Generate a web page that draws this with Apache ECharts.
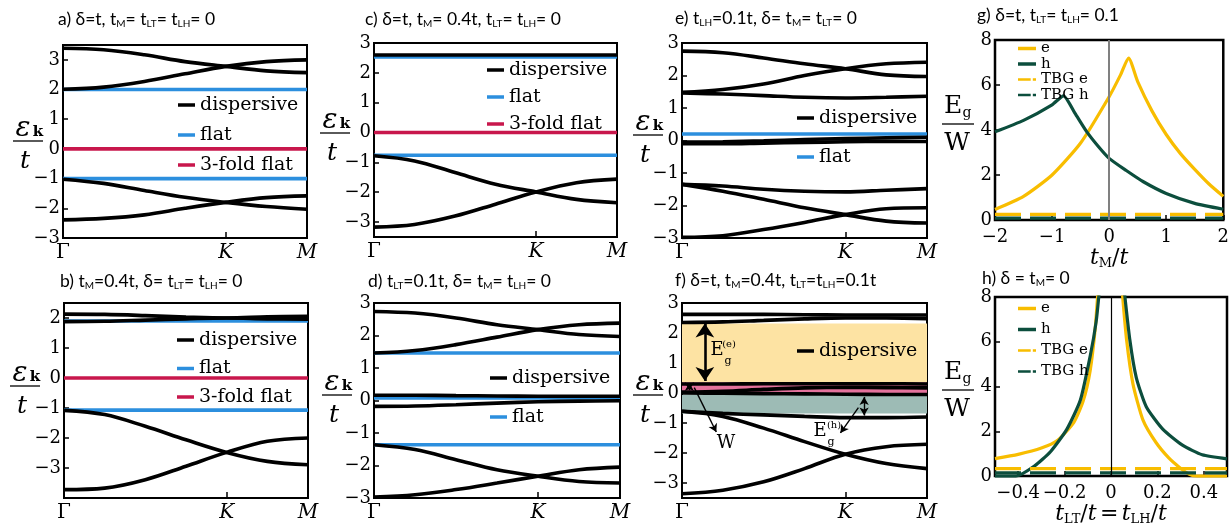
<!DOCTYPE html>
<html lang="en">
<head>
<meta charset="UTF-8">
<title>band structures and gaps</title>
<style>
  html, body { margin: 0; padding: 0; background: #fff; }
  #main { width: 1232px; height: 527px; }
</style>
</head>
<body>
<div id="main"></div>
<script src="https://cdn.jsdelivr.net/npm/echarts@6/dist/echarts.min.js"></script>
<script>
// k path: Γ = 0, K = 2, M = 3
var kPath = [0, 0.5, 1, 1.5, 2, 2.5, 3];
var kTicks = [0, 2, 3];
var kNames = ['Γ', 'K', 'M'];

// a) δ=t
var aDisp = [
  [3.39, 3.34, 3.17, 2.94, 2.78, 2.63, 2.57],
  [2.01, 2.08, 2.27, 2.53, 2.78, 2.94, 3.0],
  [-1.02, -1.16, -1.40, -1.63, -1.80, -1.94, -2.03],
  [-2.39, -2.34, -2.22, -2.00, -1.80, -1.64, -1.58]
];
var aFlat = [2.0, -1.0];
var aFold = [0.0];

// b) tM=0.4t
var bDisp = [
  [2.13, 2.12, 2.08, 2.03, 2.0, 2.04, 2.06],
  [1.88, 1.89, 1.93, 1.97, 2.0, 1.97, 1.96],
  [-1.08, -1.22, -1.61, -2.06, -2.48, -2.78, -2.89],
  [-3.72, -3.67, -3.39, -2.94, -2.48, -2.11, -2.00]
];
var bFlat = [1.9, -1.07];
var bFold = [0.0];

// c) δ=t, tM=0.4t
var cDisp = [
  [2.6, 2.6, 2.6, 2.6, 2.6, 2.6, 2.6],
  [-0.78, -0.95, -1.34, -1.73, -1.99, -2.24, -2.35],
  [-3.17, -3.08, -2.80, -2.40, -1.99, -1.68, -1.56]
];
var cFlat = [2.53, -0.76];
var cFold = [0.0];

// d) tLT=0.1t
var dDisp = [
  [2.74, 2.69, 2.54, 2.33, 2.18, 2.03, 1.97],
  [1.46, 1.54, 1.72, 1.95, 2.18, 2.33, 2.38],
  [0.16, 0.16, 0.15, 0.14, 0.13, 0.13, 0.13],
  [-0.18, -0.17, -0.13, -0.08, -0.04, -0.02, -0.01],
  [-1.36, -1.51, -1.82, -2.13, -2.33, -2.49, -2.54],
  [-2.97, -2.90, -2.74, -2.54, -2.33, -2.13, -2.05]
];
var dFlat = [1.46, 0.08, -1.36];

// e) tLH=0.1t
var eDisp = [
  [2.75, 2.70, 2.54, 2.36, 2.21, 2.02, 1.97],
  [1.48, 1.57, 1.74, 2.00, 2.21, 2.36, 2.41],
  [1.46, 1.43, 1.38, 1.33, 1.31, 1.33, 1.36],
  [-0.05, -0.04, -0.01, 0.03, 0.06, 0.08, 0.10],
  [-0.10, -0.10, -0.08, -0.06, -0.04, -0.03, -0.03],
  [-1.35, -1.40, -1.50, -1.56, -1.58, -1.53, -1.48],
  [-1.35, -1.56, -1.81, -2.07, -2.28, -2.48, -2.54],
  [-2.98, -2.93, -2.74, -2.52, -2.28, -2.10, -2.07]
];
var eFlat = [0.2];

// f) δ=t, tM=0.4t, tLT=tLH=0.1t
var fDisp = [
  [2.62, 2.62, 2.62, 2.61, 2.60, 2.60, 2.60],
  [2.35, 2.37, 2.42, 2.47, 2.50, 2.50, 2.48],
  [0.30, 0.30, 0.31, 0.31, 0.31, 0.31, 0.30],
  [0.03, 0.06, 0.12, 0.17, 0.19, 0.18, 0.17],
  [0.00, -0.01, -0.02, -0.03, -0.04, -0.05, -0.05],
  [-0.61, -0.68, -0.73, -0.78, -0.82, -0.82, -0.80],
  [-0.61, -0.78, -1.17, -1.62, -2.04, -2.35, -2.52],
  [-3.36, -3.24, -2.96, -2.52, -2.04, -1.79, -1.71]
];
var fFills = [
  { from: 0.36, to: 2.32, color: '#FDE3A3' },
  { from: 0.0, to: 0.36, color: '#E4729C' },
  { from: -0.68, to: -0.07, color: '#9DBBB5' }
];
var fArrows = [
  { from: [0.28, 2.32], to: [0.28, 0.40], both: true, width: 2.6 },
  { from: [0.09, 0.33], to: [0.09, 0.09], both: true, width: 1.4 },
  { from: [0.15, 0.18], to: [0.42, -1.30], both: false, width: 1.4 },
  { from: [2.23, -0.13], to: [2.23, -0.75], both: true, width: 1.4 },
  { from: [2.16, -0.49], to: [1.94, -1.33], both: false, width: 1.4 }
];

// g) Eg/W vs tM/t
var gE = [[-2, 0.47], [-1.5, 1.05], [-1, 2.0], [-0.5, 3.42], [0, 5.48], [0.2, 6.45], [0.34, 7.2],
  [0.5, 6.15], [0.75, 4.85], [1, 3.8], [1.25, 2.95], [1.5, 2.25], [1.75, 1.6], [2, 1.05]];
var gH = [[-2, 3.92], [-1.5, 4.43], [-1, 5.12], [-0.8, 5.52], [-0.6, 4.75], [-0.4, 3.95], [-0.2, 3.3],
  [0, 2.74], [0.3, 2.2], [0.6, 1.7], [1, 1.18], [1.5, 0.74], [2, 0.48]];
var gTbg = [0.25, 0.08];

// h) Eg/W vs tLT/t = tLH/t
var hE = [[-0.5, 0.78], [-0.4, 0.97], [-0.3, 1.25], [-0.23, 1.6], [-0.16, 2.4], [-0.12, 3.35], [-0.09, 4.7],
  [-0.068, 6.6], [-0.056, 8.3], [0, null], [0.048, 8.3], [0.067, 6.1], [0.095, 4.1], [0.138, 2.5],
  [0.194, 1.5], [0.25, 0.8], [0.294, 0.4], [0.336, 0.09], [0.37, 0], [0.5, 0]];
var hH = [[-0.5, 0], [-0.41, 0], [-0.33, 0.45], [-0.26, 1.1], [-0.19, 2.1], [-0.132, 3.4], [-0.089, 5.4],
  [-0.064, 6.9], [-0.05, 8.3], [0, null], [0.057, 8.3], [0.081, 6.1], [0.109, 4.4], [0.152, 3.1],
  [0.223, 2.1], [0.308, 1.38], [0.393, 0.95], [0.5, 0.77]];
var hTbg = [0.33, 0.14];
var hTicks = [-0.4, -0.2, 0, 0.2, 0.4];

var BLACK = '#000', BLUE = '#2C8FDE', RED = '#C8174C', GOLD = '#F8BD00', TEAL = '#0C4E3D';
var SERIF = '"DejaVu Serif", serif';
var SANS = 'Lato, "Noto Sans", sans-serif';
var LW = 3.6;

function minus(v) { return String(v).replace('-', '\u2212'); }

var grids = [
  { left: 63, top: 45, width: 244, height: 193 },   // a
  { left: 64, top: 303, width: 244, height: 195 },  // b
  { left: 374, top: 43, width: 243, height: 194 },  // c
  { left: 374, top: 303, width: 246, height: 195 }, // d
  { left: 682, top: 43, width: 245, height: 195 },  // e
  { left: 682, top: 303, width: 245, height: 195 }, // f
  { left: 995, top: 40, width: 232, height: 180 },  // g
  { left: 995, top: 297, width: 232, height: 185 }  // h
];
grids.forEach(function (g, i) {
  g.show = true;
  g.borderColor = '#000';
  g.borderWidth = i > 5 ? 2.5 : 2;
});

var xAxes = [], yAxes = [];
function bandAxes(gi, min, max, ticks) {
  xAxes.push({
    gridIndex: gi, type: 'value', min: 0, max: 3,
    axisLine: { show: false, onZero: false }, splitLine: { show: false },
    axisTick: { show: true, inside: true, length: 6, customValues: [2], lineStyle: { color: '#000', width: 1.5 } },
    axisLabel: {
      customValues: kTicks, margin: 5, showMinLabel: true, showMaxLabel: true,
      formatter: function (v) {
        var n = kNames[kTicks.indexOf(v)];
        return n === 'Γ' ? '{r|Γ}' : '{i|' + n + '}';
      },
      rich: {
        r: { fontFamily: SERIF, fontSize: 20, color: '#000' },
        i: { fontFamily: SERIF, fontStyle: 'italic', fontSize: 20, color: '#000' }
      }
    }
  });
  yAxes.push({
    gridIndex: gi, type: 'value', min: min, max: max,
    axisLine: { show: false, onZero: false }, splitLine: { show: false },
    axisTick: { show: true, inside: true, length: 5, customValues: ticks, lineStyle: { color: '#000', width: 1.5 } },
    axisLabel: {
      customValues: ticks, margin: 3, showMinLabel: true, showMaxLabel: true,
      fontFamily: SERIF, fontSize: 18, color: '#000', formatter: minus
    }
  });
}
var t6 = [-3, -2, -1, 0, 1, 2, 3];
bandAxes(0, -3, 3.5, t6);
bandAxes(1, -4, 2.5, [-3, -2, -1, 0, 1, 2]);
bandAxes(2, -3.5, 3, t6);
bandAxes(3, -3, 3, t6);
bandAxes(4, -3, 3, t6);
bandAxes(5, -3.5, 3, t6);

var subRich = {
  i: { fontFamily: SERIF, fontStyle: 'italic', fontSize: 22, color: '#000' },
  s: { fontFamily: SERIF, fontSize: 13, color: '#000', lineHeight: 14, padding: [10, 0, 0, 0] },
  n: { fontFamily: SERIF, fontSize: 22, color: '#000' }
};
function gapAxes(gi, min, max, interval, ticks, name, gap) {
  var tick = { show: true, inside: true, length: 5, lineStyle: { color: '#000', width: 1.5 } };
  var lab = { margin: 8, fontFamily: SERIF, fontSize: 18, color: '#000', showMinLabel: true, showMaxLabel: true,
    formatter: function (v) { return minus(v); } };
  if (ticks) { tick.customValues = ticks; lab.customValues = ticks; }
  xAxes.push({
    gridIndex: gi, type: 'value', min: min, max: max, interval: interval,
    axisLine: { show: false, onZero: false }, splitLine: { show: false }, axisTick: tick, axisLabel: lab,
    name: name, nameLocation: 'middle', nameGap: gap, nameTextStyle: { rich: subRich }
  });
  yAxes.push({
    gridIndex: gi, type: 'value', min: 0, max: 8, interval: 2,
    axisLine: { show: false, onZero: false }, splitLine: { show: false },
    axisTick: { show: true, inside: true, length: 5, lineStyle: { color: '#000', width: 1.5 } },
    axisLabel: { margin: 3, fontFamily: SERIF, fontSize: 18, color: '#000' }
  });
}
gapAxes(6, -2, 2, 1, null, '{i|t}{s|M}{n|/}{i|t}', 22);
gapAxes(7, -0.5, 0.5, null, hTicks, '{i|t}{s|LT}{n|/}{i|t} {n|=} {i|t}{s|LH}{n|/}{i|t}', 26);

var series = [];
function addBands(gi, disp, flat, fold) {
  disp.forEach(function (band) {
    series.push({
      name: 'dispersive', type: 'line', xAxisIndex: gi, yAxisIndex: gi,
      data: kPath.map(function (k, i) { return [k, band[i]]; }),
      smooth: 0.35, showSymbol: false, color: BLACK, lineStyle: { width: LW }, z: 3
    });
  });
  (flat || []).forEach(function (v) {
    series.push({
      name: 'flat', type: 'line', xAxisIndex: gi, yAxisIndex: gi,
      data: [[0, v], [3, v]], showSymbol: false, color: BLUE, lineStyle: { width: LW }, z: 2
    });
  });
  (fold || []).forEach(function (v) {
    series.push({
      name: '3-fold flat', type: 'line', xAxisIndex: gi, yAxisIndex: gi,
      data: [[0, v], [3, v]], showSymbol: false, color: RED, lineStyle: { width: LW }, z: 5
    });
  });
}

// shaded gaps in f, under the bands
series.push({
  name: 'fill', type: 'line', xAxisIndex: 5, yAxisIndex: 5, data: [[0, 0]],
  showSymbol: false, lineStyle: { opacity: 0 }, z: 1,
  markArea: {
    silent: true,
    data: fFills.map(function (f) {
      return [{ yAxis: f.from, itemStyle: { color: f.color } }, { yAxis: f.to }];
    })
  }
});

addBands(0, aDisp, aFlat, aFold);
addBands(1, bDisp, bFlat, bFold);
addBands(2, cDisp, cFlat, cFold);
addBands(3, dDisp, dFlat);
addBands(4, eDisp, eFlat);
addBands(5, fDisp);

// arrows in f
series.push({
  name: 'arrows', type: 'line', xAxisIndex: 5, yAxisIndex: 5, data: [[0, 0]],
  showSymbol: false, lineStyle: { opacity: 0 }, z: 6,
  markLine: {
    silent: true, label: { show: false },
    data: fArrows.map(function (a) {
      var big = a.width > 2;
      var size = big ? [14, 14] : [7, 8];
      return [
        { coord: a.from, symbol: a.both ? 'arrow' : 'none', symbolSize: size,
          lineStyle: { color: '#000', width: a.width, type: 'solid' } },
        { coord: a.to, symbol: 'arrow', symbolSize: size }
      ];
    })
  }
});

function zeroLine(color, width) {
  return {
    silent: true, symbol: 'none', label: { show: false },
    lineStyle: { color: color, width: width, type: 'solid' }, data: [{ xAxis: 0 }]
  };
}
var TBG_ICON = 'path://M0,0H24V5H0ZM28,0H34V5H28Z';
function addGap(gi, eData, hData, tbg, x0, x1, zc, zw) {
  series.push({ name: 'e', type: 'line', xAxisIndex: gi, yAxisIndex: gi, data: eData, smooth: 0.2,
    showSymbol: false, color: GOLD, lineStyle: { width: 3.2 }, z: 3, markLine: zeroLine(zc, zw) });
  series.push({ name: 'h', type: 'line', xAxisIndex: gi, yAxisIndex: gi, data: hData, smooth: 0.2,
    showSymbol: false, color: TEAL, lineStyle: { width: 3.2 }, z: 3 });
  series.push({ name: 'TBG e', type: 'line', xAxisIndex: gi, yAxisIndex: gi, data: [[x0, tbg[0]], [x1, tbg[0]]],
    showSymbol: false, color: GOLD, lineStyle: { width: 3.2, type: [26, 9] }, z: 3 });
  series.push({ name: 'TBG h', type: 'line', xAxisIndex: gi, yAxisIndex: gi, data: [[x0, tbg[1]], [x1, tbg[1]]],
    showSymbol: false, color: TEAL, lineStyle: { width: 3.2, type: [26, 9] }, z: 3 });
}
addGap(6, gE, gH, gTbg, -2, 2, '#808080', 2);
addGap(7, hE, hH, hTbg, -0.5, 0.5, '#000', 1.2);

function bandLegend(left, top, gap, names) {
  return {
    left: left, top: top, orient: 'vertical', padding: 0, itemGap: gap,
    itemWidth: 17, itemHeight: 3.5, icon: 'rect', selectedMode: false, data: names,
    textStyle: { fontFamily: SERIF, fontSize: 19, color: '#000', lineHeight: 20 }
  };
}
function gapLegend(left, top, gap) {
  return {
    left: left, top: top, orient: 'vertical', padding: 0, itemGap: gap,
    itemWidth: 18, itemHeight: 3.5, icon: 'rect', selectedMode: false,
    data: ['e', 'h', { name: 'TBG e', icon: TBG_ICON }, { name: 'TBG h', icon: TBG_ICON }],
    textStyle: { fontFamily: SERIF, fontSize: 15, color: '#000', lineHeight: 13 }
  };
}
var three = ['dispersive', 'flat', '3-fold flat'];
var legends = [
  bandLegend(178, 95, 10, three),
  bandLegend(177, 330, 8.5, three),
  bandLegend(487, 60, 7, three),
  bandLegend(490, 368, 19, ['dispersive', 'flat']),
  bandLegend(797, 108, 19, ['dispersive', 'flat']),
  bandLegend(797, 341, 10, ['dispersive']),
  gapLegend(1018, 41, 0.5),
  gapLegend(1018, 301, 6)
];

function panelTitle(text, left, top) {
  return {
    text: text, left: left, top: top, padding: 0,
    textStyle: {
      fontFamily: SANS, fontSize: 17.5, fontWeight: 'normal', color: '#000',
      rich: { s: { fontFamily: SANS, fontSize: 10, lineHeight: 11, padding: [9, 0, 0, 0], color: '#000' } }
    }
  };
}
var titles = [
  panelTitle('a) δ=t, t{s|M}= t{s|LT}= t{s|LH}= 0', 58, 10),
  panelTitle('b) t{s|M}=0.4t, δ= t{s|LT}= t{s|LH}= 0', 60, 272),
  panelTitle('c) δ=t, t{s|M}= 0.4t, t{s|LT}= t{s|LH}= 0', 365, 10),
  panelTitle('d) t{s|LT}=0.1t, δ= t{s|M}= t{s|LH}= 0', 368, 272),
  panelTitle('e) t{s|LH}=0.1t, δ= t{s|M}= t{s|LT}= 0', 675, 9),
  panelTitle('f) δ=t, t{s|M}=0.4t, t{s|LT}=t{s|LH}=0.1t', 675, 271),
  panelTitle('g) δ=t, t{s|LT}= t{s|LH}= 0.1', 977, 6),
  panelTitle('h) δ = t{s|M}= 0', 982, 269)
];

function txt(x, y, s, size, extra) {
  var st = { text: s, fontFamily: SERIF, fontSize: size, fill: '#000', align: 'center', verticalAlign: 'middle' };
  for (var k in (extra || {})) st[k] = extra[k];
  return { type: 'text', x: x, y: y, z: 100, style: st };
}
function epsLabel(x0, y0) {
  return {
    type: 'group', x: x0, y: y0, silent: true, z: 100, children: [
      txt(10, -12, 'ε', 28, { fontStyle: 'italic' }),
      txt(25, -9, 'k', 15, { fontWeight: 'bold' }),
      { type: 'line', z: 100, shape: { x1: 0, y1: 0, x2: 30, y2: 0 }, style: { stroke: '#000', lineWidth: 1.3 } },
      txt(12, 20, 't', 25, { fontStyle: 'italic' })
    ]
  };
}
function egLabel(x0, y0) {
  return {
    type: 'group', x: x0, y: y0, silent: true, z: 100, children: [
      txt(11, -18, 'E', 25),
      txt(25, -11, 'g', 14),
      { type: 'line', z: 100, shape: { x1: 0, y1: 0, x2: 32, y2: 0 }, style: { stroke: '#000', lineWidth: 1.3 } },
      txt(15, 19, 'W', 25)
    ]
  };
}
var graphics = [
  epsLabel(13, 141), epsLabel(10, 386), epsLabel(320, 133),
  epsLabel(322, 395), epsLabel(633, 135), epsLabel(633, 395),
  egLabel(942, 124), egLabel(942, 390),
  txt(717, 350, 'E', 18), txt(729, 344, '(e)', 10), txt(728, 361, 'g', 11),
  txt(726, 443, 'W', 18),
  txt(820, 431, 'E', 18), txt(834, 425, '(h)', 10), txt(831, 442, 'g', 11)
];

var chart = echarts.init(document.getElementById('main'));
chart.setOption({
  animation: false,
  backgroundColor: '#fff',
  title: titles,
  legend: legends,
  grid: grids,
  xAxis: xAxes,
  yAxis: yAxes,
  series: series,
  graphic: graphics
});
</script>
</body>
</html>
